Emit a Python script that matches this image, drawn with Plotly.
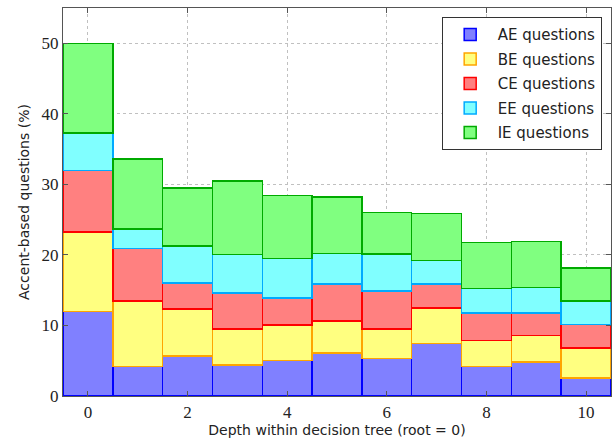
import plotly.graph_objects as go

depths = list(range(11))
ae = [12.0, 4.2, 5.7, 4.36, 5.03, 6.1, 5.35, 7.44, 4.17, 4.83, 2.56]
be = [11.25, 9.25, 6.66, 5.11, 5.01, 4.55, 4.15, 5.02, 3.73, 3.75, 4.22]
ce = [8.75, 7.45, 3.64, 5.13, 3.86, 5.25, 5.37, 3.41, 3.85, 3.22, 3.36]
ee = [5.3, 2.8, 5.26, 5.48, 5.6, 4.3, 5.23, 3.33, 3.5, 3.55, 3.31]
ie = [12.7, 9.9, 8.24, 10.42, 8.9, 8.0, 5.9, 6.66, 6.49, 6.53, 4.73]

series = [
    ("AE questions", ae, "#8080ff", "#0000ff"),
    ("BE questions", be, "#ffff80", "#ffa500"),
    ("CE questions", ce, "#ff8080", "#ff0000"),
    ("EE questions", ee, "#80ffff", "#00aaff"),
    ("IE questions", ie, "#80ff80", "#00aa00"),
]

fig = go.Figure()
for name, vals, fill, line in series:
    fig.add_trace(go.Bar(
        x=depths, y=vals, name=name, width=1, legendgroup=name,
        marker=dict(color=fill, line=dict(color=line, width=1.5)),
    ))

axis_common = dict(
    showline=True, linecolor="#555555", linewidth=1.2, mirror="ticks",
    ticks="inside", ticklen=5, tickcolor="#555555",
    showgrid=True, gridcolor="#c0c0c0", griddash="dot", gridwidth=1,
    zeroline=False,
    tickfont=dict(family="Liberation Serif, serif", size=17, color="#222222"),
    title_font=dict(family="DejaVu Sans", size=14, color="#222222"),
)

fig.update_layout(
    barmode="stack",
    width=614, height=439,
    margin=dict(l=63, r=3, t=8, b=43),
    plot_bgcolor="white", paper_bgcolor="white",
    xaxis=dict(range=[-0.5, 10.5], tickvals=[0, 2, 4, 6, 8, 10],
               title=dict(text="Depth within decision tree (root = 0)", standoff=4),
               **axis_common),
    yaxis=dict(range=[0, 55], tickvals=[0, 10, 20, 30, 40, 50],
               title=dict(text="Accent-based questions (%)", standoff=8),
               **axis_common),
    legend=dict(x=0.983, y=0.976, xanchor="right", yanchor="top",
                bgcolor="white", bordercolor="#333333", borderwidth=1,
                font=dict(family="DejaVu Sans", size=15, color="#222222"),
                traceorder="grouped", tracegroupgap=2, itemwidth=45),
    showlegend=True,
)

fig.write_html("out.html", config={"displayModeBar": False},
               post_script="document.body.style.margin='0';document.body.style.overflow='hidden';")
